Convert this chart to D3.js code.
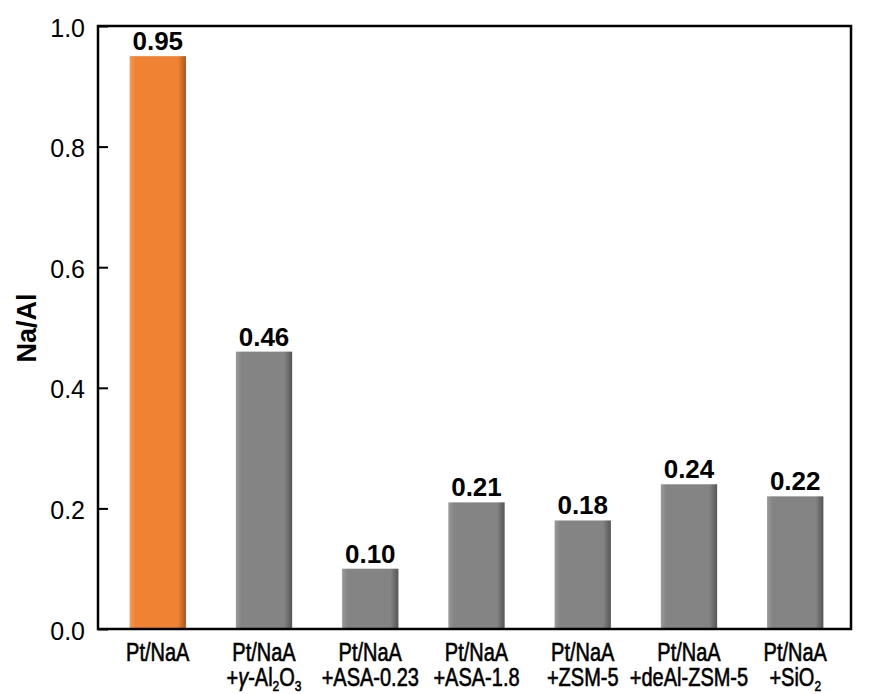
<!DOCTYPE html>
<meta charset="utf-8">
<script src="https://d3js.org/d3.v7.min.js"></script>
<style>
  body { margin: 0; background: #fff; }
</style>
<div id="chart"></div>
<script>

// categories (line 1 / line 2 of each label) and Na/Al values
var line1 = ["Pt/NaA", "Pt/NaA", "Pt/NaA", "Pt/NaA", "Pt/NaA", "Pt/NaA", "Pt/NaA"];
var line2 = ["", "+γ-Al2O3", "+ASA-0.23", "+ASA-1.8", "+ZSM-5", "+deAl-ZSM-5", "+SiO2"];
var values = [0.95, 0.46, 0.10, 0.21, 0.18, 0.24, 0.22];
var valueLabels = ["0.95", "0.46", "0.10", "0.21", "0.18", "0.24", "0.22"];
var yTicks = [0.0, 0.2, 0.4, 0.6, 0.8, 1.0];

var W = 869, H = 694;
var margin = {top: 26, right: 18, bottom: 65, left: 98};

var svg = d3.select("#chart").append("svg")
  .attr("width", W)
  .attr("height", H);

var defs = svg.append("defs");
function grad(id, light, base, dark) {
  var g = defs.append("linearGradient").attr("id", id)
    .attr("x1", "0%").attr("x2", "100%").attr("y1", "0%").attr("y2", "0%");
  g.append("stop").attr("offset", "0%").attr("stop-color", light);
  g.append("stop").attr("offset", "10%").attr("stop-color", base);
  g.append("stop").attr("offset", "86%").attr("stop-color", base);
  g.append("stop").attr("offset", "100%").attr("stop-color", dark);
}
grad("gOrange", "#f29a5c", "#ef8333", "#a9561c");
grad("gGray", "#9a9a9a", "#848484", "#555555");

var x = d3.scaleBand()
  .domain(d3.range(values.length))
  .range([margin.left + 4, W - margin.right])
  .paddingInner(0.47)
  .paddingOuter(0.26);

var y = d3.scaleLinear()
  .domain([0, 1])
  .range([H - margin.bottom, margin.top]);

// bars
svg.selectAll("rect.bar")
  .data(values)
  .enter().append("rect")
    .attr("class", "bar")
    .attr("x", function(d, i) { return x(i); })
    .attr("y", function(d) { return y(d); })
    .attr("width", x.bandwidth())
    .attr("height", function(d) { return y(0) - y(d); })
    .attr("fill", function(d, i) { return i === 0 ? "url(#gOrange)" : "url(#gGray)"; });

// value labels
svg.selectAll("text.val")
  .data(values)
  .enter().append("text")
    .attr("class", "val")
    .attr("x", function(d, i) { return x(i) + x.bandwidth() / 2; })
    .attr("y", function(d) { return y(d) - 6; })
    .attr("text-anchor", "middle")
    .style("font-family", "Liberation Sans, Arial, sans-serif")
    .style("font-weight", "bold")
    .style("font-size", "26px")
    .text(function(d, i) { return valueLabels[i]; });

// y axis with inward ticks
var yAxis = svg.append("g")
  .attr("transform", "translate(" + margin.left + ",0)")
  .call(d3.axisRight(y).tickValues(yTicks).tickSize(10).tickFormat(d3.format(".1f")));
yAxis.select(".domain").remove();
yAxis.selectAll("line").attr("stroke", "#000").attr("stroke-width", 2);
yAxis.selectAll("text")
  .attr("x", -13)
  .attr("text-anchor", "end")
  .attr("dy", "0.4em")
  .style("font-family", "Liberation Sans, Arial, sans-serif")
  .style("font-size", "25px")
  .attr("fill", "#000");

// frame
svg.append("rect")
  .attr("x", margin.left)
  .attr("y", margin.top)
  .attr("width", W - margin.right - margin.left)
  .attr("height", H - margin.bottom - margin.top)
  .attr("fill", "none")
  .attr("stroke", "#000")
  .attr("stroke-width", 2.5);

// y axis title
svg.append("text")
  .attr("transform", "translate(36,328) rotate(-90)")
  .attr("text-anchor", "middle")
  .style("font-family", "Liberation Sans, Arial, sans-serif")
  .style("font-weight", "bold")
  .style("font-size", "27px")
  .text("Na/Al");

// category labels, narrowed horizontally, with subscripts for formulas
var cat = svg.selectAll("g.cat")
  .data(values)
  .enter().append("g")
    .attr("class", "cat")
    .attr("transform", function(d, i) { return "translate(" + (x(i) + x.bandwidth() / 2) + ",0) scale(0.8,1)"; })
    .style("font-family", "Liberation Sans, Arial, sans-serif")
    .style("font-size", "25px")
    .attr("text-anchor", "middle")
    .attr("fill", "#000")
    .attr("stroke", "#000")
    .attr("stroke-width", 0.6);

cat.append("text")
  .attr("y", 661)
  .text(function(d, i) { return line1[i]; });

cat.append("text")
  .attr("y", 686)
  .each(function(d, i) {
    var t = d3.select(this);
    var s = line2[i];
    if (s === "+γ-Al2O3") {
      t.append("tspan").text("+");
      t.append("tspan").style("font-style", "italic").text("γ");
      t.append("tspan").text("-Al");
      t.append("tspan").attr("dy", 5).style("font-size", "15px").text("2");
      t.append("tspan").attr("dy", -5).text("O");
      t.append("tspan").attr("dy", 5).style("font-size", "15px").text("3");
    } else if (s === "+SiO2") {
      t.append("tspan").text("+SiO");
      t.append("tspan").attr("dy", 5).style("font-size", "15px").text("2");
    } else {
      t.text(s);
    }
  });

</script>
